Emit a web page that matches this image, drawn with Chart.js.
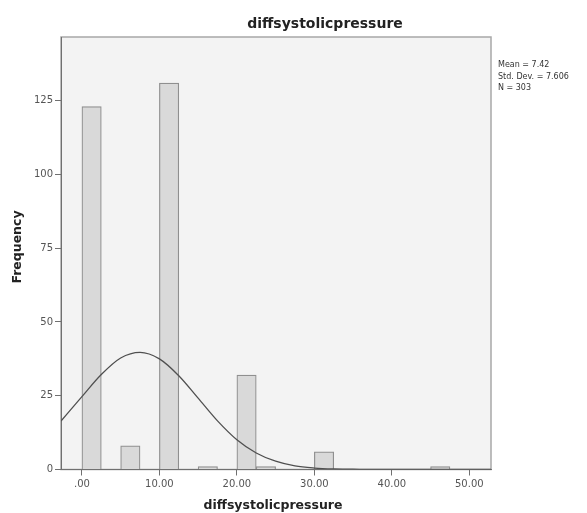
<!DOCTYPE html>
<html>
<head>
<meta charset="utf-8">
<script src="https://cdn.jsdelivr.net/npm/chart.js@4.4.1/dist/chart.umd.min.js"></script>
<style>
html,body{margin:0;padding:0;background:#fff;}
#wrap{width:587px;height:513px;position:relative;}
</style>
</head>
<body>
<div id="wrap"><canvas id="c" width="587" height="513"></canvas></div>
<script>
// ---- data ----
const chartTitle = "diffsystolicpressure";
const xAxisTitle = "diffsystolicpressure";
const yAxisTitle = "Frequency";
const binWidth = 2.5;
const binStarts = [0, 5, 10, 15, 20, 22.5, 30, 45];
const binCounts = [123, 8, 131, 1, 32, 1, 6, 1];
const curveX = [-2.7, 0, 2.5, 5, 7.5, 10, 12.5, 15, 17.5, 20, 22.5, 25, 27.5, 30, 32.5, 35, 37.5, 40, 45, 50, 52.8];
const curveY = [16.4, 24.7, 32.2, 37.8, 39.7, 37.5, 31.8, 24.2, 16.5, 10.1, 5.6, 2.8, 1.2, 0.5, 0.2, 0.1, 0, 0, 0, 0, 0];
const xTickValues = [0, 10, 20, 30, 40, 50];
const xTickLabels = [".00", "10.00", "20.00", "30.00", "40.00", "50.00"];
const yTickValues = [0, 25, 50, 75, 100, 125];
const statsLines = ["Mean = 7.42", "Std. Dev. = 7.606", "N = 303"];
const xMin = -2.7, xMax = 52.8, yMin = 0, yMax = 146.6;

const barData = binStarts.map((s, i) => ({x: s + binWidth / 2, y: binCounts[i]}));
const curveData = curveX.map((x, i) => ({x: x, y: curveY[i]}));

const FONT = "'DejaVu Sans', 'Liberation Sans', Arial, sans-serif";

const decor = {
  id: 'decor',
  beforeDraw(chart) {
    const {ctx, chartArea: a} = chart;
    ctx.save();
    ctx.fillStyle = '#f3f3f3';
    ctx.fillRect(a.left, a.top, a.right - a.left, a.bottom - a.top);
    ctx.strokeStyle = '#a8a8a8';
    ctx.lineWidth = 1.5;
    ctx.strokeRect(a.left, a.top, a.right - a.left, a.bottom - a.top);
    ctx.restore();
  },
  afterDraw(chart) {
    const {ctx, chartArea: a} = chart;
    ctx.save();
    ctx.fillStyle = '#222';
    ctx.textBaseline = 'middle';
    ctx.textAlign = 'center';
    ctx.font = "bold 14px " + FONT;
    ctx.fillText(chartTitle, 325, 24);
    ctx.font = "bold 12.5px " + FONT;
    ctx.fillText(xAxisTitle, (a.left + a.right) / 2 - 3, 506);
    ctx.save();
    ctx.translate(18, 247);
    ctx.rotate(-Math.PI / 2);
    ctx.fillText(yAxisTitle, 0, 0);
    ctx.restore();
    ctx.textAlign = 'left';
    ctx.font = "8px " + FONT;
    ctx.fillStyle = '#333';
    statsLines.forEach((t, i) => ctx.fillText(t, a.right + 7, 65 + i * 11.5));
    ctx.restore();
  }
};

new Chart(document.getElementById('c'), {
  data: {
    datasets: [
      {
        type: 'line',
        data: curveData,
        borderColor: '#505050',
        borderWidth: 1.3,
        pointRadius: 0,
        cubicInterpolationMode: 'monotone',
        fill: false,
        order: 0
      },
      {
        type: 'bar',
        data: barData,
        backgroundColor: '#d9d9d9',
        borderColor: '#8f8f8f',
        borderWidth: 1.2,
        barPercentage: 1,
        categoryPercentage: 1,
        order: 1
      }
    ]
  },
  options: {
    responsive: false,
    animation: false,
    devicePixelRatio: 1,
    layout: {padding: {top: 37, right: 96, left: 0, bottom: 0}},
    plugins: {legend: {display: false}, tooltip: {enabled: false}, title: {display: false}},
    scales: {
      x: {
        type: 'linear',
        offset: false,
        min: xMin, max: xMax,
        afterFit(s) { s.height = 43.5; },
        afterBuildTicks(s) { s.ticks = xTickValues.map(v => ({value: v})); },
        grid: {offset: false, drawOnChartArea: false, drawTicks: true, tickLength: 6, color: '#707070'},
        border: {color: '#707070', width: 1},
        ticks: {
          padding: 3,
          color: '#555',
          font: {family: FONT, size: 10},
          maxRotation: 0,
          callback(v) { const i = xTickValues.indexOf(v); return i >= 0 ? xTickLabels[i] : ''; }
        }
      },
      y: {
        type: 'linear',
        min: yMin, max: yMax,
        afterFit(s) { s.width = 61; },
        afterBuildTicks(s) { s.ticks = yTickValues.map(v => ({value: v})); },
        grid: {drawOnChartArea: false, drawTicks: true, tickLength: 6, color: '#707070'},
        border: {color: '#707070', width: 1},
        ticks: {
          padding: 2,
          color: '#555',
          font: {family: FONT, size: 10},
          callback(v) { return String(v); }
        }
      }
    }
  },
  plugins: [decor]
});
</script>
</body>
</html>
